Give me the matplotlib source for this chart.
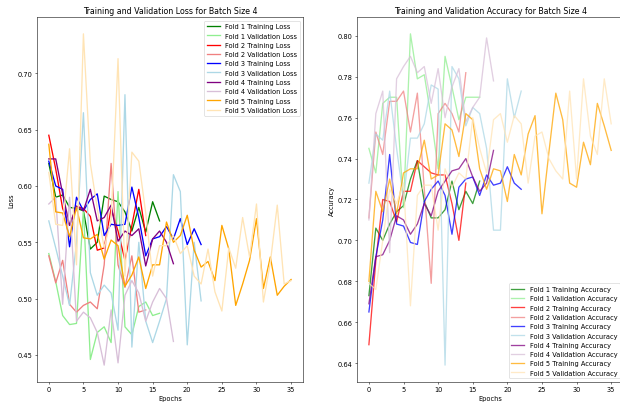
import matplotlib
matplotlib.use("Agg")
import matplotlib.pyplot as plt
import numpy as np

# values, one list per fold
train_loss = [
    [0.620, 0.590, 0.592, 0.581, 0.580, 0.578, 0.544, 0.550, 0.591, 0.588, 0.586, 0.577, 0.560, 0.581, 0.559, 0.586, 0.569],
    [0.645, 0.615, 0.580, 0.565, 0.582, 0.580, 0.573, 0.543, 0.545, 0.580, 0.560, 0.534, 0.565, 0.597, 0.556],
    [0.622, 0.600, 0.597, 0.546, 0.590, 0.578, 0.588, 0.593, 0.556, 0.566, 0.565, 0.566, 0.599, 0.572, 0.538,
     0.553, 0.555, 0.564, 0.553, 0.571, 0.548, 0.562, 0.548],
    [0.624, 0.624, 0.593, 0.565, 0.582, 0.578, 0.597, 0.569, 0.572, 0.583, 0.551, 0.560, 0.556, 0.562, 0.529,
     0.553, 0.560, 0.550, 0.531],
    [0.637, 0.577, 0.576, 0.555, 0.581, 0.554, 0.553, 0.557, 0.535, 0.552, 0.547, 0.511, 0.521, 0.537, 0.509,
     0.530, 0.530, 0.568, 0.550, 0.556, 0.574, 0.543, 0.528, 0.533, 0.516, 0.565, 0.544, 0.494, 0.513, 0.534,
     0.571, 0.509, 0.537, 0.503, 0.511, 0.517],
]
val_loss = [
    [0.540, 0.515, 0.485, 0.477, 0.478, 0.580, 0.446, 0.470, 0.475, 0.461, 0.595, 0.475, 0.468, 0.493, 0.497, 0.485, 0.487],
    [0.538, 0.514, 0.534, 0.495, 0.488, 0.494, 0.497, 0.491, 0.530, 0.620, 0.530, 0.510, 0.538, 0.488, 0.490],
    [0.569, 0.545, 0.520, 0.494, 0.550, 0.665, 0.523, 0.503, 0.512, 0.505, 0.472, 0.681, 0.457, 0.550, 0.480,
     0.461, 0.480, 0.500, 0.610, 0.595, 0.459, 0.550, 0.498],
    [0.584, 0.590, 0.495, 0.590, 0.480, 0.488, 0.483, 0.470, 0.441, 0.490, 0.443, 0.503, 0.516, 0.505, 0.480,
     0.497, 0.509, 0.500, 0.462],
    [0.612, 0.566, 0.565, 0.633, 0.530, 0.735, 0.620, 0.580, 0.545, 0.570, 0.713, 0.520, 0.630, 0.622, 0.576,
     0.520, 0.547, 0.547, 0.556, 0.540, 0.547, 0.520, 0.513, 0.544, 0.506, 0.489, 0.545, 0.527, 0.572, 0.537,
     0.584, 0.497, 0.532, 0.583, 0.513, 0.516],
]
train_acc = [
    [0.673, 0.706, 0.700, 0.708, 0.714, 0.717, 0.730, 0.739, 0.719, 0.711, 0.711, 0.715, 0.729, 0.715, 0.724, 0.718, 0.729],
    [0.649, 0.690, 0.720, 0.719, 0.709, 0.724, 0.724, 0.739, 0.736, 0.733, 0.732, 0.732, 0.718, 0.700, 0.728],
    [0.665, 0.692, 0.710, 0.742, 0.708, 0.707, 0.699, 0.698, 0.719, 0.725, 0.729, 0.722, 0.703, 0.726, 0.730,
     0.731, 0.722, 0.732, 0.727, 0.728, 0.736, 0.728, 0.725],
    [0.669, 0.692, 0.693, 0.700, 0.712, 0.710, 0.703, 0.708, 0.718, 0.712, 0.724, 0.729, 0.734, 0.735, 0.740,
     0.731, 0.724, 0.728, 0.744],
    [0.680, 0.724, 0.714, 0.730, 0.713, 0.733, 0.735, 0.735, 0.749, 0.730, 0.732, 0.757, 0.754, 0.741, 0.762,
     0.759, 0.735, 0.725, 0.735, 0.734, 0.719, 0.742, 0.732, 0.752, 0.761, 0.713, 0.743, 0.772, 0.759, 0.728,
     0.726, 0.748, 0.737, 0.767, 0.756, 0.744],
]
val_acc = [
    [0.745, 0.733, 0.767, 0.770, 0.770, 0.716, 0.801, 0.779, 0.781, 0.760, 0.735, 0.790, 0.775, 0.759, 0.770, 0.770, 0.770],
    [0.711, 0.753, 0.742, 0.768, 0.768, 0.773, 0.753, 0.772, 0.725, 0.679, 0.762, 0.767, 0.762, 0.753, 0.782],
    [0.728, 0.752, 0.749, 0.773, 0.745, 0.720, 0.750, 0.750, 0.757, 0.776, 0.774, 0.639, 0.785, 0.779, 0.756,
     0.765, 0.762, 0.745, 0.705, 0.705, 0.779, 0.760, 0.773],
    [0.710, 0.762, 0.773, 0.694, 0.779, 0.785, 0.790, 0.782, 0.785, 0.767, 0.784, 0.760, 0.775, 0.784, 0.758,
     0.765, 0.770, 0.799, 0.778],
    [0.679, 0.676, 0.700, 0.725, 0.718, 0.728, 0.668, 0.722, 0.727, 0.727, 0.705, 0.735, 0.726, 0.733, 0.730,
     0.760, 0.745, 0.733, 0.759, 0.762, 0.748, 0.761, 0.757, 0.728, 0.751, 0.753, 0.740, 0.734, 0.730, 0.773,
     0.730, 0.779, 0.751, 0.742, 0.779, 0.757],
]

train_colors = ['green', 'red', 'blue', 'purple', 'orange']
val_colors = ['lightgreen', 'lightcoral', 'lightblue', 'thistle', 'moccasin']

plt.rcParams['lines.linewidth'] = 2.0

fig = plt.figure(figsize=(13.07, 8.526))
ax1 = fig.add_axes([0.0591, 0.0551, 0.4293, 0.8998])
ax2 = fig.add_axes([0.5747, 0.0551, 0.4293, 0.8998])

for i in range(5):
    ax1.plot(np.arange(len(train_loss[i])), train_loss[i], color=train_colors[i], label=f'Fold {i+1} Training Loss')
    ax1.plot(np.arange(len(val_loss[i])), val_loss[i], color=val_colors[i], label=f'Fold {i+1} Validation Loss')
ax1.set_title('Training and Validation Loss for Batch Size 4')
ax1.set_xlabel('Epochs')
ax1.set_ylabel('Loss')
ax1.legend(loc='upper right')

for i in range(5):
    ax2.plot(np.arange(len(train_acc[i])), train_acc[i], color=train_colors[i], alpha=0.75,
             label=f'Fold {i+1} Training Accuracy')
    ax2.plot(np.arange(len(val_acc[i])), val_acc[i], color=val_colors[i], alpha=0.75,
             label=f'Fold {i+1} Validation Accuracy')
ax2.set_title('Training and Validation Accuracy for Batch Size 4')
ax2.set_xlabel('Epochs')
ax2.set_ylabel('Accuracy')
ax2.legend(loc='lower right')

fig.savefig('out.png', dpi=47.5)
